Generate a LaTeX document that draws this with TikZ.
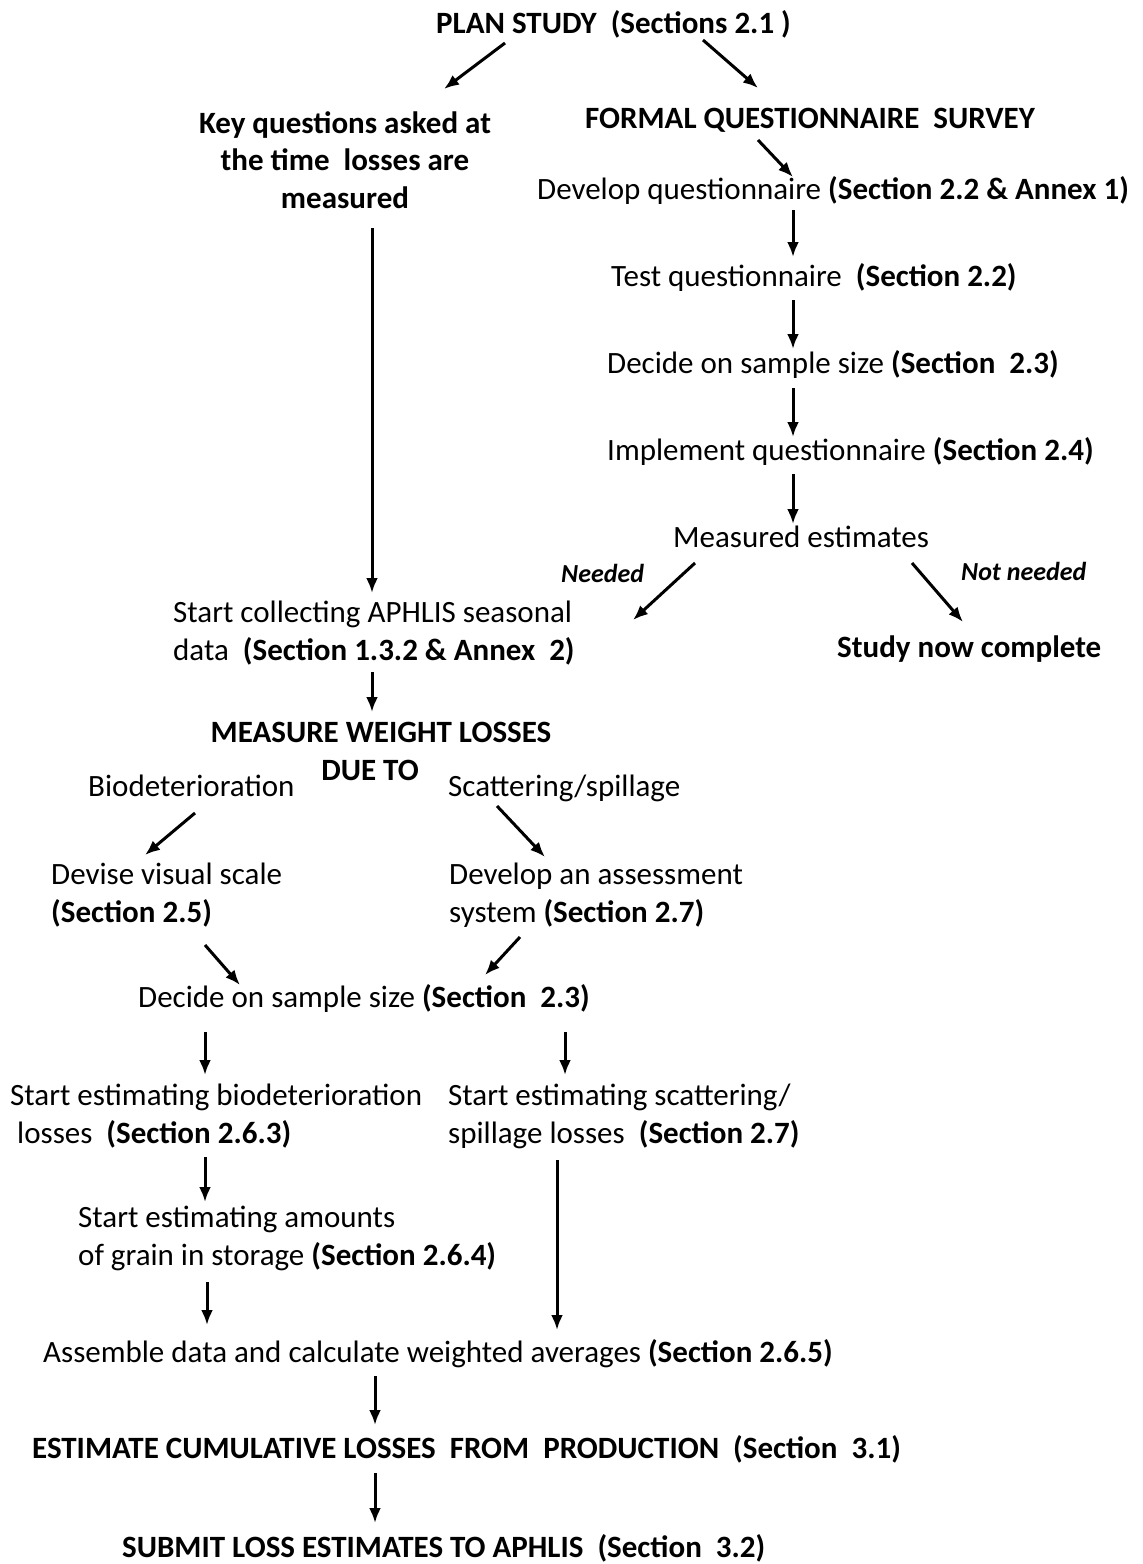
\documentclass[tikz,border=0pt]{standalone}
\usepackage{fontspec}
\setmainfont{Carlito}
\usetikzlibrary{arrows.meta}
\newcommand\fsz{\fontsize{31}{37.5}\selectfont}
\newcommand\fsm{\fontsize{26}{30}\selectfont}
\begin{document}
\begin{tikzpicture}[x=1pt,y=-1pt,
  txt/.style={inner sep=0pt, anchor=base west, font=\fsz, align=left},
  ctxt/.style={inner sep=0pt, anchor=base, font=\fsz, align=center},
  lbl/.style={inner sep=0pt, anchor=base west, font=\fsm\bfseries\itshape},
  arr/.style={line width=3pt, -{Latex[length=15pt,width=12pt]}}]
\fill[white] (0,0) rectangle (1143,1564);
\useasboundingbox (0,0) rectangle (1143,1564);

% multi-line nodes are placed at the baseline of their last line
\node[txt] (plan) at (436,33) {\textbf{PLAN STUDY\ \ (Sections 2.1 )}};
\node[ctxt] (key) at (345,208) {\textbf{Key questions asked at}\\ \textbf{the time\ \ losses are}\\ \textbf{measured}};
\node[txt] (formal) at (585,128) {\textbf{FORMAL QUESTIONNAIRE\ \ SURVEY}};
\node[txt] (dev) at (537,199) {Develop questionnaire \textbf{(Section 2.2 \& Annex 1)}};
\node[txt] (test) at (611,286) {Test questionnaire\ \ \textbf{(Section 2.2)}};
\node[txt] (dec1) at (607,373) {Decide on sample size \textbf{(Section\ \ 2.3)}};
\node[txt] (impl) at (607,460) {Implement questionnaire \textbf{(Section 2.4)}};
\node[txt] (meas) at (673,547) {Measured estimates};
\node[lbl] (needed) at (561,582) {Needed};
\node[lbl] (notneeded) at (961,580) {Not needed};
\node[txt] (coll) at (173,660) {Start collecting APHLIS seasonal\\ data\ \ \textbf{(Section 1.3.2 \& Annex\ \ 2)}};
\node[txt] (study) at (837,657) {\textbf{Study now complete}};
\node[ctxt] (measure) at (381,780) {\textbf{MEASURE WEIGHT LOSSES}\\ \textbf{DUE TO}\hspace*{22pt}};
\node[txt] (bio) at (88,796) {Biodeterioration};
\node[txt] (scat) at (448,796) {Scattering/spillage};
\node[txt] (devise) at (51,922) {Devise visual scale\\ \textbf{(Section 2.5)}};
\node[txt] (assess) at (449,922) {Develop an assessment\\ system \textbf{(Section 2.7)}};
\node[txt] (dec2) at (138,1007) {Decide on sample size \textbf{(Section\ \ 2.3)}};
\node[txt] (sbio) at (10,1143) {Start estimating biodeterioration\\ \hspace*{7pt}losses\ \ \textbf{(Section 2.6.3)}};
\node[txt] (sscat) at (448,1143) {Start estimating scattering/\\ spillage losses\ \ \textbf{(Section 2.7)}};
\node[txt] (amt) at (78,1265) {Start estimating amounts\\ of grain in storage \textbf{(Section 2.6.4)}};
\node[txt] (asm) at (43,1362) {Assemble data and calculate weighted averages \textbf{(Section 2.6.5)}};
\node[txt] (est) at (32,1458) {\textbf{ESTIMATE CUMULATIVE LOSSES\ \ FROM\ \ PRODUCTION\ \ (Section\ \ 3.1)}};
\node[txt] (sub) at (122,1557) {\textbf{SUBMIT LOSS ESTIMATES TO APHLIS\ \ (Section\ \ 3.2)}};

\draw[arr] ([shift={(69,10)}]plan.base west) -- ([shift={(99,-119)}]key.base);
\draw[arr] ([shift={(267,7)}]plan.base west) -- ([shift={(173,-40)}]formal.base west);
\draw[arr] ([shift={(173,12)}]formal.base west) -- ([shift={(256,-22)}]dev.base west);
\draw[arr] ([shift={(256,11)}]dev.base west) -- ([shift={(182,-29)}]test.base west);
\draw[arr] ([shift={(182,14)}]test.base west) -- ([shift={(186,-24)}]dec1.base west);
\draw[arr] ([shift={(186,15)}]dec1.base west) -- ([shift={(186,-23)}]impl.base west);
\draw[arr] ([shift={(186,14)}]impl.base west) -- ([shift={(120,-23)}]meas.base west);
\draw[arr] ([shift={(27,20)}]key.base) -- ([shift={(199,-67)}]coll.base west);
\draw[arr] ([shift={(22,16)}]meas.base west) -- ([shift={(460,-40)}]coll.base west);
\draw[arr] ([shift={(239,16)}]meas.base west) -- ([shift={(126,-35)}]study.base west);
\draw[arr] ([shift={(199,12)}]coll.base west) -- ([shift={(-9,-68)}]measure.base);
\draw[arr] ([shift={(107,17)}]bio.base west) -- ([shift={(94,-67)}]devise.base west);
\draw[arr] ([shift={(49,10)}]scat.base west) -- ([shift={(96,-65)}]assess.base west);
\draw[arr] ([shift={(154,23)}]devise.base west) -- ([shift={(102,-22)}]dec2.base west);
\draw[arr] ([shift={(71,15)}]assess.base west) -- ([shift={(347,-32)}]dec2.base west);
\draw[arr] ([shift={(67,25)}]dec2.base west) -- ([shift={(195,-68)}]sbio.base west);
\draw[arr] ([shift={(427,25)}]dec2.base west) -- ([shift={(117,-68)}]sscat.base west);
\draw[arr] ([shift={(195,14)}]sbio.base west) -- ([shift={(127,-63)}]amt.base west);
\draw[arr] ([shift={(129,17)}]amt.base west) -- ([shift={(164,-37)}]asm.base west);
\draw[arr] ([shift={(109,17)}]sscat.base west) -- ([shift={(514,-32)}]asm.base west);
\draw[arr] ([shift={(332,14)}]asm.base west) -- ([shift={(343,-33)}]est.base west);
\draw[arr] ([shift={(343,15)}]est.base west) -- ([shift={(253,-34)}]sub.base west);
\end{tikzpicture}
\end{document}
